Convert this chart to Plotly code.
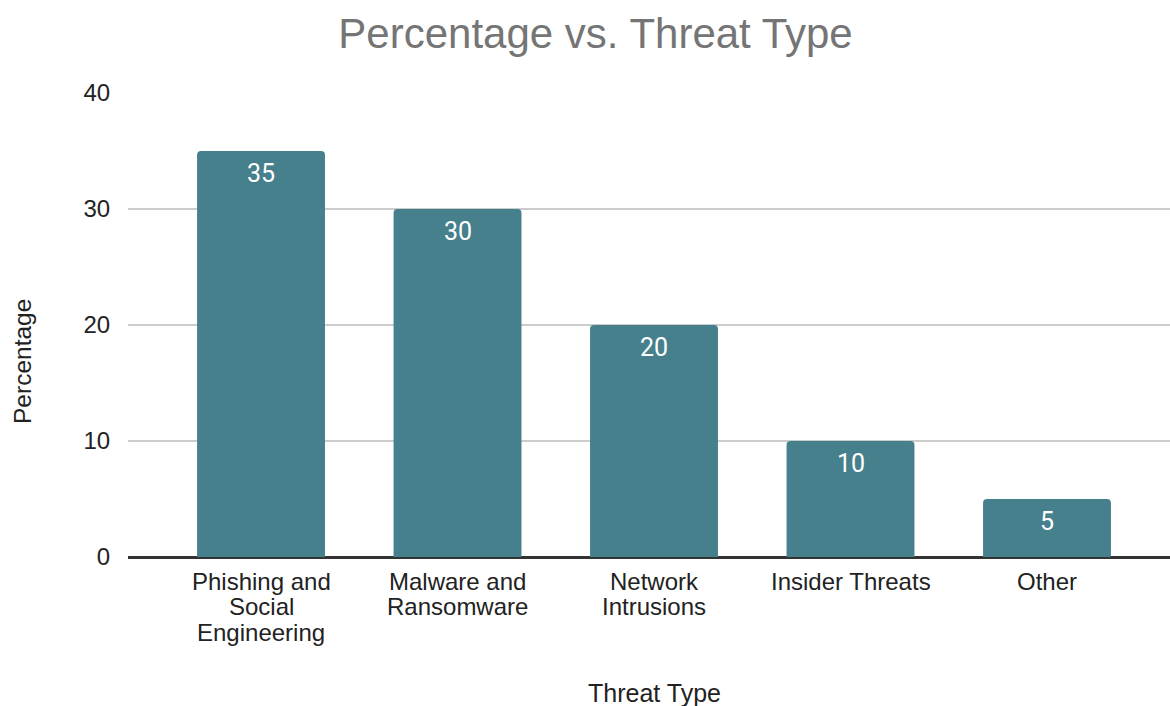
import plotly.graph_objects as go

categories = ["Phishing and|Social|Engineering", "Malware and|Ransomware",
              "Network|Intrusions", "Insider Threats", "Other"]
values = [35, 30, 20, 10, 5]
y_ticks = [0, 10, 20, 30, 40]

FONT = "Liberation Sans"
fig = go.Figure()
fig.add_trace(go.Bar(
    x=list(range(len(categories))), y=values,
    marker=dict(color="#46808C", cornerradius=4, line=dict(width=0)),
    hoverinfo="skip",
))
for i, v in enumerate(values):
    fig.add_annotation(x=i, y=v, xref="x", yref="y", text=str(v), showarrow=False,
                       yanchor="middle", yshift=-22,
                       font=dict(family="Roboto", size=25, color="white"))
for i, cat in enumerate(categories):
    for k, line in enumerate(cat.split("|")):
        fig.add_annotation(x=i, y=0, xref="x", yref="paper", text=line, showarrow=False,
                           yanchor="middle", yshift=-24 - 25.5 * k,
                           font=dict(family=FONT, size=24, color="#222"))

fig.update_layout(
    width=1170, height=706,
    margin=dict(l=128, r=0, t=93, b=149),
    paper_bgcolor="white", plot_bgcolor="white",
    bargap=0.349,
    showlegend=False,
    title=dict(text="Percentage vs. Threat Type", x=0.509, xanchor="center",
               y=0.953, yanchor="middle",
               font=dict(family=FONT, size=42, color="#757575")),
    xaxis=dict(
        tickmode="array", tickvals=list(range(len(categories))),
        ticktext=[""] * len(categories),
        range=[-0.677, 4.626],
        showgrid=False, showline=True, linecolor="#333", linewidth=1.5,
        ticks="",
    ),
    yaxis=dict(
        range=[0, 40], tickvals=y_ticks,
        tickfont=dict(family=FONT, size=24, color="#222"),
        showgrid=True, gridcolor="#cccccc", gridwidth=1.5,
        zeroline=True, zerolinecolor="#333", zerolinewidth=1.5,
        ticks="outside", ticklen=12, tickcolor="rgba(0,0,0,0)",
    ),
    annotations=list(fig.layout.annotations) + [
        dict(text="Threat Type", x=0.505, y=0, xref="paper", yref="paper",
             yanchor="middle", yshift=-136, showarrow=False,
             font=dict(family=FONT, size=25, color="#222")),
        dict(text="Percentage", x=0, y=0.5, xref="paper", yref="paper",
             xanchor="center", yanchor="middle", xshift=-106, yshift=-37,
             textangle=-90, showarrow=False,
             font=dict(family=FONT, size=24.5, color="#222")),
    ],
)

fig.write_html("out.html")
